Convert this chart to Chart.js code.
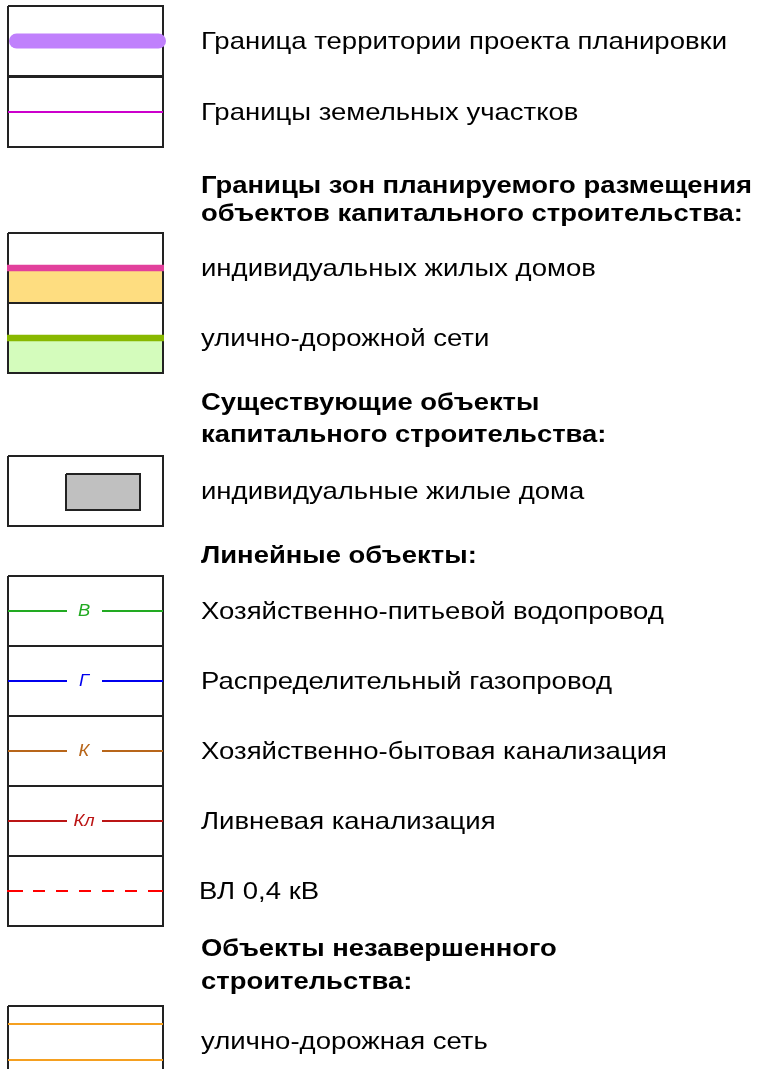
<!DOCTYPE html>
<html>
<head>
<meta charset="utf-8">
<script src="https://cdn.jsdelivr.net/npm/chart.js@4/dist/chart.umd.min.js"></script>
<style>
  body { margin: 0; background: #fff; }
  #wrap { width: 762px; height: 1069px; }
</style>
</head>
<body>
<div id="wrap"><canvas id="myChart" width="762" height="1069"></canvas></div>
<script>
// legend rows (text next to each symbol box) and the row centre on the sheet
var itemLabels = [
    'Граница территории проекта планировки',
    'Границы земельных участков',
    'индивидуальных жилых домов',
    'улично-дорожной сети',
    'индивидуальные жилые дома',
    'Хозяйственно-питьевой водопровод',
    'Распределительный газопровод',
    'Хозяйственно-бытовая канализация',
    'Ливневая канализация',
    'ВЛ 0,4 кВ',
    'улично-дорожная сеть'
];
var itemY = [41, 112, 268, 338, 491, 611, 681, 751, 821, 891, 1041];

// bold section headings
var headings = [
    'Границы зон планируемого размещения',
    'объектов капитального строительства:',
    'Существующие объекты',
    'капитального строительства:',
    'Линейные объекты:',
    'Объекты незавершенного',
    'строительства:'
];
var headingY = [185, 213, 402, 434, 555, 948, 981];

// utility line codes (rows 5..8)
var lineCodes = ['В', 'Г', 'К', 'Кл'];

var boxL = 8, boxR = 163, half = 35;

function hline(y, x0, x1) {
    return [{x: x0, y: y}, {x: x1, y: y}];
}
function rect(x0, y0, x1, y1) {
    return [{x: x0, y: y0}, {x: x1, y: y0}, {x: x1, y: y1}, {x: x0, y: y1}, {x: x0, y: y0}];
}

var datasets = [];

// box outlines
itemY.forEach(function (y) {
    datasets.push({
        data: rect(boxL, y - half, boxR, y + half),
        borderColor: '#222', borderWidth: 2, order: 2
    });
});

// row 0: project boundary, row 1: land plots
datasets.push({ data: hline(itemY[0], 16.5, 158.5), borderColor: '#c080fc', borderWidth: 15, borderCapStyle: 'round', order: 1 });
datasets.push({ data: hline(itemY[1], boxL, boxR), borderColor: '#cc00cc', borderWidth: 2, order: 1 });

// rows 2, 3: zones with fill below the line
datasets.push({ data: hline(itemY[2] + 3, boxL, boxR), borderWidth: 0, borderColor: 'transparent', backgroundColor: '#fedd80', fill: {value: itemY[2] + half}, order: 3 });
datasets.push({ data: hline(itemY[2], boxL - 1, boxR + 1), borderColor: '#e2409c', borderWidth: 6.5, order: 1 });
datasets.push({ data: hline(itemY[3] + 3, boxL, boxR), borderWidth: 0, borderColor: 'transparent', backgroundColor: '#d4fcbc', fill: {value: itemY[3] + half}, order: 3 });
datasets.push({ data: hline(itemY[3], boxL - 1, boxR + 1), borderColor: '#88b800', borderWidth: 6.5, order: 1 });

// row 4: existing house
datasets.push({ data: hline(itemY[4] - 17, 66, 140), borderWidth: 0, borderColor: 'transparent', backgroundColor: '#c0c0c0', fill: {value: itemY[4] + 19}, order: 3 });
datasets.push({ data: rect(66, itemY[4] - 17, 140, itemY[4] + 19), borderColor: '#222', borderWidth: 2, order: 1 });

// rows 5..8: utility lines broken for the code
var lineColors = ['#22aa22', '#0000ee', '#b8661a', '#bb1515'];
lineCodes.forEach(function (c, i) {
    var y = itemY[5 + i];
    datasets.push({
        data: [{x: boxL, y: y}, {x: 67, y: y}, {x: 84, y: null}, {x: 102, y: y}, {x: boxR, y: y}],
        borderColor: lineColors[i], borderWidth: 2, spanGaps: false, order: 1
    });
});

// row 9: overhead power line
datasets.push({ data: hline(itemY[9], boxL - 1, boxR), borderColor: '#ff0000', borderWidth: 2,
    borderDash: [16, 10, 12, 11, 12, 11, 12, 11, 12, 11, 12, 11, 17, 40], order: 1 });

// row 10: unfinished street network
datasets.push({ data: hline(itemY[10] - 17, boxL, boxR), borderColor: '#f5a020', borderWidth: 2, order: 1 });
datasets.push({ data: hline(itemY[10] + 19, boxL, boxR), borderColor: '#f5a020', borderWidth: 2, order: 1 });

var FONT = '"Liberation Sans", Arial, sans-serif';

function drawStretched(ctx, text, x, y, sx) {
    ctx.save();
    ctx.translate(x, y);
    ctx.scale(sx, 1);
    ctx.fillText(text, 0, 0);
    ctx.restore();
}

var textPlugin = {
    id: 'legendText',
    afterDatasetsDraw: function (chart) {
        var ctx = chart.ctx, xs = chart.scales.x, ys = chart.scales.y;
        ctx.save();
        ctx.fillStyle = '#000';
        ctx.textBaseline = 'middle';
        ctx.textAlign = 'left';
        ctx.font = '24px ' + FONT;
        var sx = 526 / ctx.measureText(itemLabels[0]).width;
        itemLabels.forEach(function (t, i) {
            drawStretched(ctx, t, xs.getPixelForValue(i === 9 ? 199 : 201), ys.getPixelForValue(itemY[i] + 1), sx);
        });
        ctx.font = 'bold 24px ' + FONT;
        var sb = 551 / ctx.measureText(headings[0]).width;
        headings.forEach(function (t, i) {
            drawStretched(ctx, t, xs.getPixelForValue(201), ys.getPixelForValue(headingY[i] + 1), sb);
        });
        ctx.textAlign = 'center';
        ctx.font = 'italic 17px ' + FONT;
        lineCodes.forEach(function (c, i) {
            ctx.fillStyle = lineColors[i];
            drawStretched(ctx, c, xs.getPixelForValue(84), ys.getPixelForValue(itemY[5 + i] + 0.5), 1.08);
        });
        ctx.restore();
    }
};

const ctx = document.getElementById('myChart');
const myChart = new Chart(ctx, {
    type: 'scatter',
    data: { datasets: datasets },
    options: {
        responsive: false,
        animation: false,
        events: [],
        layout: { padding: 0 },
        elements: {
            point: { radius: 0 },
            line: { tension: 0, fill: false }
        },
        datasets: { scatter: { showLine: true } },
        plugins: {
            legend: { display: false },
            tooltip: { enabled: false }
        },
        scales: {
            x: { type: 'linear', display: false, min: 0, max: 762 },
            y: { type: 'linear', display: false, min: 0, max: 1069, reverse: true }
        }
    },
    plugins: [textPlugin]
});
</script>
</body>
</html>
